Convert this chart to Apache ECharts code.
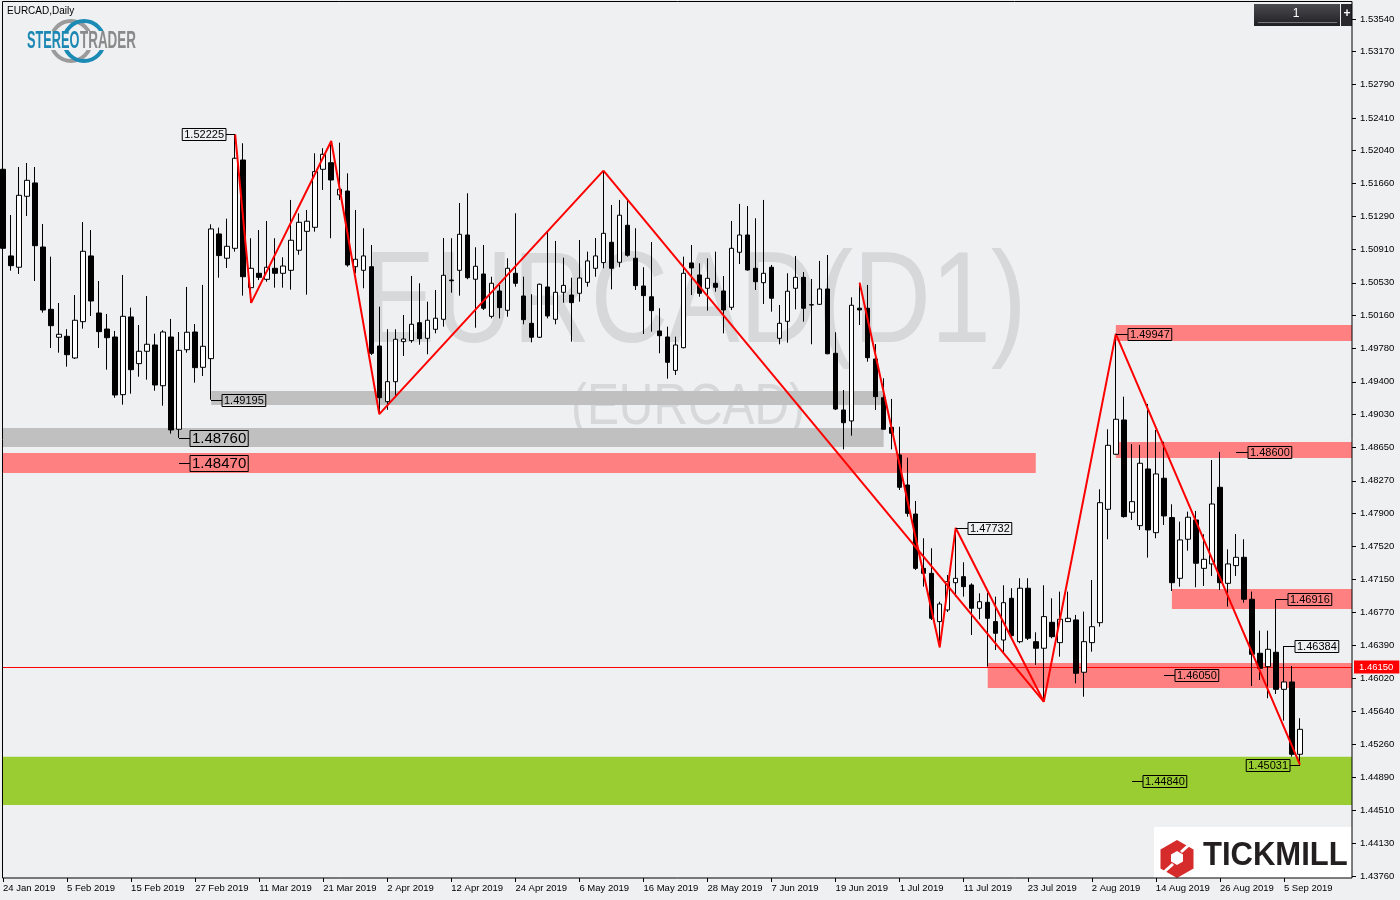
<!DOCTYPE html>
<html><head><meta charset="utf-8">
<script src="https://cdn.jsdelivr.net/npm/echarts@6/dist/echarts.min.js"></script>
<style>html,body{margin:0;padding:0;background:#eff0f2;}#c{width:1400px;height:900px;}</style>
</head><body><div id="c"></div>
<script>
const dates = ['24 Jan 2019','25 Jan 2019','28 Jan 2019','29 Jan 2019','30 Jan 2019','31 Jan 2019',
'1 Feb 2019','4 Feb 2019','5 Feb 2019','6 Feb 2019','7 Feb 2019','8 Feb 2019','11 Feb 2019','12 Feb 2019','13 Feb 2019','14 Feb 2019','15 Feb 2019','18 Feb 2019','19 Feb 2019','20 Feb 2019','21 Feb 2019','22 Feb 2019','25 Feb 2019','26 Feb 2019','27 Feb 2019','28 Feb 2019',
'1 Mar 2019','4 Mar 2019','5 Mar 2019','6 Mar 2019','7 Mar 2019','8 Mar 2019','11 Mar 2019','12 Mar 2019','13 Mar 2019','14 Mar 2019','15 Mar 2019','18 Mar 2019','19 Mar 2019','20 Mar 2019','21 Mar 2019','22 Mar 2019','25 Mar 2019','26 Mar 2019','27 Mar 2019','28 Mar 2019','29 Mar 2019',
'1 Apr 2019','2 Apr 2019','3 Apr 2019','4 Apr 2019','5 Apr 2019','8 Apr 2019','9 Apr 2019','10 Apr 2019','11 Apr 2019','12 Apr 2019','15 Apr 2019','16 Apr 2019','17 Apr 2019','18 Apr 2019','19 Apr 2019','22 Apr 2019','23 Apr 2019','24 Apr 2019','25 Apr 2019','26 Apr 2019','29 Apr 2019','30 Apr 2019',
'1 May 2019','2 May 2019','3 May 2019','6 May 2019','7 May 2019','8 May 2019','9 May 2019','10 May 2019','13 May 2019','14 May 2019','15 May 2019','16 May 2019','17 May 2019','20 May 2019','21 May 2019','22 May 2019','23 May 2019','24 May 2019','27 May 2019','28 May 2019','29 May 2019','30 May 2019','31 May 2019',
'3 Jun 2019','4 Jun 2019','5 Jun 2019','6 Jun 2019','7 Jun 2019','10 Jun 2019','11 Jun 2019','12 Jun 2019','13 Jun 2019','14 Jun 2019','17 Jun 2019','18 Jun 2019','19 Jun 2019','20 Jun 2019','21 Jun 2019','24 Jun 2019','25 Jun 2019','26 Jun 2019','27 Jun 2019','28 Jun 2019',
'1 Jul 2019','2 Jul 2019','3 Jul 2019','4 Jul 2019','5 Jul 2019','8 Jul 2019','9 Jul 2019','10 Jul 2019','11 Jul 2019','12 Jul 2019','15 Jul 2019','16 Jul 2019','17 Jul 2019','18 Jul 2019','19 Jul 2019','22 Jul 2019','23 Jul 2019','24 Jul 2019','25 Jul 2019','26 Jul 2019','29 Jul 2019','30 Jul 2019','31 Jul 2019',
'1 Aug 2019','2 Aug 2019','5 Aug 2019','6 Aug 2019','7 Aug 2019','8 Aug 2019','9 Aug 2019','12 Aug 2019','13 Aug 2019','14 Aug 2019','15 Aug 2019','16 Aug 2019','19 Aug 2019','20 Aug 2019','21 Aug 2019','22 Aug 2019','23 Aug 2019','26 Aug 2019','27 Aug 2019','28 Aug 2019','29 Aug 2019','30 Aug 2019',
'2 Sep 2019','3 Sep 2019','4 Sep 2019','5 Sep 2019','6 Sep 2019','9 Sep 2019'];

const opens = [
1.51825,1.50836,1.50707,1.51517,1.51669,1.50938,1.50227,1.49908,1.49919,1.49672,
1.50086,1.50836,1.50185,1.50002,1.49911,1.49253,1.50140,1.49607,1.49748,1.49820,
1.49355,1.49911,1.48858,1.49766,1.49968,1.49565,1.49664,1.51087,1.50810,1.50923,
1.51931,1.50474,1.50638,1.50569,1.50695,1.50638,1.50672,1.50901,1.51117,1.51163,
1.51825,1.51900,1.51532,1.51577,1.50713,1.50672,1.50713,1.49808,1.49173,1.49401,
1.49858,1.49870,1.50074,1.49896,1.49999,1.50113,1.50561,1.50672,1.51075,1.50570,
1.50630,1.50147,1.50436,1.50216,1.50638,1.50379,1.50067,1.49908,1.50482,1.50113,
1.50421,1.50390,1.50410,1.50535,1.50695,1.50760,1.50992,1.50764,1.51186,1.50810,
1.50493,1.50370,1.49980,1.49911,1.49530,1.49789,1.50756,1.50619,1.50467,1.50524,
1.50436,1.50250,1.50878,1.51075,1.50695,1.50531,1.50707,1.49896,1.50090,1.50467,
1.50592,1.50276,1.50284,1.50459,1.49725,1.49078,1.48953,1.50240,1.50239,1.49660,
1.49218,1.48880,1.48565,1.48222,1.47891,1.47271,1.47214,1.46663,1.46796,1.47107,
1.47176,1.47081,1.46815,1.46883,1.46663,1.46453,1.46929,1.46434,1.47044,1.46434,
1.46359,1.46655,1.46423,1.46663,1.46682,1.46085,1.46423,1.46651,1.47945,1.48573,
1.48964,1.47911,1.47758,1.48405,1.47678,1.48299,1.47850,1.47157,1.47603,1.47823,
1.47271,1.47321,1.48196,1.47100,1.47302,1.47397,1.46918,1.46302,1.46149,1.46313,
1.45890,1.45974,1.45149];

const highs = [
1.52045,1.51303,1.51851,1.51897,1.51851,1.51201,1.50828,1.50299,1.50000,1.50390,
1.51223,1.51132,1.50550,1.50174,1.49980,1.50619,1.50246,1.50048,1.50379,1.49949,
1.49988,1.50117,1.49968,1.50482,1.50059,1.50505,1.51197,1.51159,1.51261,1.52225,
1.52122,1.51038,1.51132,1.51235,1.51038,1.50821,1.51475,1.51323,1.51361,1.52008,
1.52065,1.52148,1.52129,1.51779,1.51361,1.51152,1.50961,1.50257,1.50000,1.49999,
1.50162,1.50608,1.50524,1.50314,1.50448,1.51041,1.51038,1.51440,1.51551,1.50935,
1.50961,1.50599,1.50505,1.50809,1.51323,1.50599,1.50399,1.50520,1.51113,1.51007,
1.50816,1.50588,1.51018,1.50885,1.51041,1.51809,1.51418,1.51475,1.51475,1.51152,
1.50707,1.50995,1.50239,1.50029,1.49915,1.50828,1.50961,1.50752,1.50809,1.50885,
1.50607,1.51235,1.51430,1.51406,1.51266,1.51475,1.50733,1.50276,1.50638,1.50836,
1.50653,1.50573,1.50779,1.50847,1.49965,1.49306,1.50364,1.50530,1.50505,1.49831,
1.49440,1.49204,1.48887,1.48534,1.48040,1.47614,1.47500,1.46890,1.47195,1.47732,
1.47340,1.47100,1.46986,1.46993,1.46948,1.47078,1.47044,1.47158,1.47158,1.46541,
1.47078,1.46929,1.47005,1.47005,1.46739,1.46777,1.47138,1.48173,1.48858,1.49947,
1.49230,1.48690,1.48679,1.49147,1.48850,1.48716,1.48002,1.47804,1.47918,1.47926,
1.47660,1.48507,1.48600,1.47488,1.47663,1.47603,1.47005,1.46560,1.46560,1.46916,
1.46384,1.46157,1.45560];

const lows = [
1.50790,1.50668,1.50630,1.51292,1.50550,1.50189,1.49786,1.49732,1.49572,1.49660,
1.50006,1.50151,1.49786,1.49538,1.49218,1.49139,1.49264,1.49458,1.49424,1.49298,
1.49127,1.48808,1.48760,1.49732,1.49390,1.49466,1.49195,1.50588,1.50699,1.50885,
1.50383,1.50300,1.50561,1.50542,1.50474,1.50474,1.50451,1.50850,1.50394,1.51113,
1.51589,1.51038,1.51475,1.50713,1.50638,1.50467,1.49706,1.49030,1.49080,1.49230,
1.49694,1.49846,1.49823,1.49714,1.49953,1.50029,1.50417,1.50383,1.50570,1.50017,
1.50219,1.50124,1.50124,1.50143,1.50485,1.50056,1.49850,1.49900,1.50124,1.50056,
1.50303,1.49858,1.50314,1.50485,1.50599,1.50695,1.50455,1.50707,1.50828,1.50448,
1.49945,1.49972,1.49725,1.49435,1.49478,1.49782,1.50390,1.50371,1.50212,1.50428,
1.49953,1.50219,1.50744,1.50668,1.50448,1.50288,1.50200,1.49828,1.49846,1.50227,
1.50086,1.49828,1.50276,1.49714,1.49078,1.48629,1.48785,1.50048,1.49629,1.49078,
1.48858,1.48629,1.48165,1.47860,1.47252,1.47062,1.46682,1.46370,1.46773,1.46948,
1.46948,1.46510,1.46690,1.46149,1.46339,1.46301,1.46473,1.46416,1.46453,1.46168,
1.45749,1.46473,1.46263,1.46660,1.45959,1.45806,1.46320,1.46605,1.47603,1.48565,
1.47850,1.47823,1.47709,1.47393,1.47614,1.47766,1.47012,1.47062,1.47473,1.47055,
1.47070,1.47184,1.47024,1.46834,1.47184,1.46880,1.45928,1.45997,1.45788,1.45837,
1.45533,1.45122,1.45031];

const closes = [
1.50923,1.50725,1.51528,1.51699,1.50953,1.50219,1.50040,1.49942,1.49709,1.50102,
1.50889,1.50322,1.49972,1.49903,1.49249,1.50147,1.49538,1.49748,1.49828,1.49363,
1.49968,1.48850,1.49759,1.49965,1.49561,1.49805,1.51144,1.50840,1.50946,1.51951,
1.50599,1.50695,1.50592,1.50707,1.50638,1.50721,1.51015,1.51220,1.51232,1.51798,
1.51996,1.51703,1.51597,1.50733,1.50798,1.50836,1.49725,1.49218,1.49401,1.49885,
1.49888,1.50056,1.49892,1.50102,1.50125,1.50615,1.50553,1.51083,1.50588,1.50718,
1.50239,1.50524,1.50246,1.50695,1.50524,1.50109,1.49908,1.50513,1.50151,1.50421,
1.50500,1.50303,1.50584,1.50779,1.50836,1.51094,1.50695,1.51301,1.50844,1.50497,
1.50383,1.50212,1.49926,1.49622,1.49820,1.50638,1.50699,1.50410,1.50581,1.50478,
1.50219,1.50923,1.51075,1.50676,1.50542,1.50638,1.50353,1.50067,1.50433,1.50592,
1.50239,1.50280,1.50459,1.49720,1.49089,1.48933,1.50273,1.50220,1.49675,1.49230,
1.48858,1.48812,1.48196,1.47899,1.47271,1.47214,1.46701,1.46864,1.47119,1.47157,
1.47062,1.46815,1.46890,1.46701,1.46530,1.46879,1.46503,1.47044,1.46473,1.46359,
1.46720,1.46491,1.46690,1.46701,1.46073,1.46434,1.46605,1.48020,1.48675,1.48972,
1.47861,1.48032,1.48470,1.47709,1.48348,1.47869,1.47107,1.47595,1.47854,1.47329,
1.47374,1.48005,1.47107,1.47321,1.47397,1.46918,1.46290,1.46130,1.46347,1.45890,
1.45974,1.45149,1.45434];

const yTicks = [1.53540,1.53170,1.52790,1.52410,1.52040,1.51660,1.51290,1.50910,1.50530,1.50160,1.49780,1.49400,1.49030,1.48650,1.48270,1.47900,1.47520,1.47150,1.46770,1.46390,1.46020,1.45640,1.45260,1.44890,1.44510,1.44130,1.43760];
const currentPrice = 1.46150;

const zigzagA = [[29,'H'],[31,'L'],[41,'H'],[47,'L'],[75,'H']];
const zigzagB = [[75,'H'],[130,'L']];
const zigzagC = [[107,'H'],[117,'L'],[119,'H'],[130,'L'],[139,'H'],[162,'L']];

const grayZones  = [[26,110,1.49135,1.49295],[-1,110,1.48656,1.48873]];
const pinkZones  = [[-1,129,1.48360,1.48588],[139,999,1.49866,1.50048],[139,999,1.48530,1.48713],[146,999,1.46807,1.47036],[123,999,1.45906,1.46191]];
const greenZones = [[-1,999,1.44571,1.45120]];

const labelIdx   = [29, 26, 22, 22, 119, 139, 154, 159, 160, 145, 162, 141];
const labelPrice = [1.52225,1.49195,1.48760,1.48470,1.47732,1.49947,1.48600,1.46916,1.46384,1.46050,1.45031,1.44840];

// ---- styles (not data) ----
const labelStyle = [
  {s:'L',g:9},{s:'R',g:11},{s:'R',g:11,big:1},{s:'R',g:11,big:1},{s:'R',g:12},{s:'R',g:12},
  {s:'R',g:12},{s:'R',g:12},{s:'R',g:11},{s:'R',g:11},{s:'L',g:10},{s:'R',g:11}
];
const AXFONT = "'Liberation Sans',sans-serif";
const N = dates.length;
const cats = dates.concat(['','','','','','']);

const chart = echarts.init(document.getElementById('c'), null, {renderer:'canvas', width:1400, height:900});

function pivotData(list){
  return list.map(p => [p[0], p[1]==='H' ? highs[p[0]] : lows[p[0]]]);
}
function zigzag(list){
  return {type:'line', data: pivotData(list), symbol:'none', silent:true, z:4, animation:false,
    lineStyle:{color:'#ff0000', width:2}};
}
function zoneSeries(zones, color){
  return {
    type:'custom', z:1, silent:true, animation:false,
    data: zones.map((z,i)=>[i, z[3]]),
    renderItem: function(params, api){
      const z = zones[params.dataIndex];
      const cs = params.coordSys;
      const yTop = api.coord([0, z[3]])[1];
      const yBot = api.coord([0, z[2]])[1];
      const xL = z[0] < 0 ? 3 : api.coord([z[0], z[3]])[0];
      const xR = z[1] >= N ? cs.x + cs.width : api.coord([z[1], z[3]])[0];
      return {type:'rect', shape:{x:xL, y:yTop, width:xR-xL, height:yBot-yTop}, style:{fill:color}};
    }
  };
}

const option = {
  animation:false,
  backgroundColor:'#eff0f2',
  grid:{left:-1, right:48, top:2, bottom:22, containLabel:false, outerBoundsMode:'none'},
  xAxis:{
    type:'category', data:cats, boundaryGap:true,
    axisLine:{show:false},
    axisTick:{show:true, alignWithLabel:true, length:4, lineStyle:{color:'#000'},
      interval:(i,v)=> i%8===0 && v!==''},
    axisLabel:{interval:(i,v)=> i%8===0 && v!=='', align:'left', margin:5, color:'#000',
      fontSize:9.5, fontFamily:AXFONT},
    splitLine:{show:false}
  },
  yAxis:{
    type:'value', position:'right', min:1.43737, max:1.53734, scale:true,
    axisLine:{show:false}, splitLine:{show:false},
    axisTick:{show:true, customValues:yTicks, length:4, lineStyle:{color:'#000'}},
    axisLabel:{customValues:yTicks, formatter:v=>v.toFixed(5), margin:8, color:'#000',
      fontSize:9.5, fontFamily:AXFONT}
  },
  graphic:[
    {type:'text', x:695, y:306, scaleX:0.827, silent:true, z:-10,
      style:{text:'EURCAD(D1)', font:'130px "Liberation Sans"', fill:'#d6d8da', align:'center', verticalAlign:'middle'}},
    {type:'text', x:688, y:408, scaleX:0.84, silent:true, z:-10,
      style:{text:'(EURCAD)', font:'57px "Liberation Sans"', fill:'#d6d8da', align:'center', verticalAlign:'middle'}},
    {type:'text', x:7, y:11, silent:true,
      style:{text:'EURCAD,Daily', font:'10px "Liberation Sans"', fill:'#000', align:'left', verticalAlign:'middle'}},
    // stereotrader logo
    {type:'circle', shape:{cx:71, cy:41, r:20}, style:{fill:'none', stroke:'#9b9b9b', lineWidth:4}, silent:true},
    {type:'circle', shape:{cx:84, cy:41, r:20}, style:{fill:'none', stroke:'#1b8ab5', lineWidth:4}, silent:true},
    {type:'rect', shape:{x:24, y:31, width:118, height:19}, style:{fill:'#eff0f2'}, silent:true},
    {type:'text', x:27, y:41, scaleX:0.53, silent:true,
      style:{text:'STEREO', font:'bold 24px "Liberation Sans"', fill:'#1b87b3', align:'left', verticalAlign:'middle'}},
    {type:'text', x:80, y:41, scaleX:0.56, silent:true,
      style:{text:'TRADER', font:'bold 24px "Liberation Sans"', fill:'#8a8a8a', align:'left', verticalAlign:'middle'}},
    // top-right button
    {type:'rect', shape:{x:1254, y:4, width:86, height:22}, silent:true,
      style:{fill:new echarts.graphic.LinearGradient(0,0,0,1,[{offset:0,color:'#4a4a50'},{offset:1,color:'#1f1f23'}])}},
    {type:'line', shape:{x1:1258, y1:22.5, x2:1337, y2:22.5}, style:{stroke:'#77777d', lineWidth:1}, silent:true},
    {type:'text', x:1296, y:14, silent:true,
      style:{text:'1', font:'12px "Liberation Sans"', fill:'#fff', align:'center', verticalAlign:'middle'}},
    {type:'rect', shape:{x:1341, y:4, width:11, height:22}, style:{fill:'#2a2a2e'}, silent:true},
    {type:'text', x:1347, y:14, silent:true,
      style:{text:'+', font:'bold 12px "Liberation Sans"', fill:'#fff', align:'center', verticalAlign:'middle'}},
    // tickmill logo
    {type:'rect', shape:{x:1154, y:827, width:198, height:51}, style:{fill:'#ffffff'}, silent:true},
    {type:'polygon', silent:true, shape:{points:[[1177,840],[1193.5,849.5],[1193.5,868.5],[1177,878],[1160.5,868.5],[1160.5,849.5]]}, style:{fill:'#d52b2b'}},
    {type:'polygon', silent:true, shape:{points:[[1177,851],[1183,854.5],[1183,861.5],[1177,865],[1171,861.5],[1171,854.5]]}, style:{fill:'#ffffff'}},
    {type:'line', silent:true, shape:{x1:1181, y1:852, x2:1190, y2:844}, style:{stroke:'#fff', lineWidth:3}},
    {type:'line', silent:true, shape:{x1:1173, y1:864, x2:1164, y2:872}, style:{stroke:'#fff', lineWidth:3}},
    {type:'text', x:1203, y:856, scaleX:0.94, silent:true,
      style:{text:'TICKMILL', font:'bold 33px "Liberation Sans"', fill:'#231f20', align:'left', verticalAlign:'middle'}},
    // frame
    {type:'rect', z:100, silent:true, shape:{x:2.5, y:1.5, width:1349.5, height:876.5}, style:{fill:'none', stroke:'#000', lineWidth:1}}
  ],
  series:[
    zoneSeries(grayZones, '#c0c0c0'),
    zoneSeries(pinkZones, '#ff8080'),
    zoneSeries(greenZones, '#9acd32'),
    {
      type:'custom', z:2, silent:true, animation:false,
      data:[[0, currentPrice]],
      renderItem:function(params, api){
        const cs = params.coordSys;
        const y = Math.round(api.coord([0, currentPrice])[1]);
        return {type:'rect', shape:{x:3, y:y, width:cs.x + cs.width - 3, height:1}, style:{fill:'#ff0000'}};
      }
    },
    {
      type:'candlestick', z:3, animation:false, barWidth:5,
      data: dates.map((d,i)=>[opens[i], closes[i], lows[i], highs[i]]),
      itemStyle:{color:'#ffffff', color0:'#000000', borderColor:'#000000', borderColor0:'#000000', borderColorDoji:'#000000', borderWidth:1}
    },
    zigzag(zigzagA), zigzag(zigzagB), zigzag(zigzagC),
    {
      type:'custom', z:6, silent:true, animation:false,
      data: labelIdx.map((x,i)=>[x, labelPrice[i]]),
      renderItem:function(params, api){
        const i = params.dataIndex;
        const st = labelStyle[i];
        const p = api.coord([labelIdx[i], labelPrice[i]]);
        const x0 = Math.round(p[0]), y0 = Math.round(p[1]) + 0.5;
        const bx = st.s==='R' ? x0 + st.g : x0 - st.g;
        return {type:'group', children:[
          {type:'line', shape:{x1:x0, y1:y0, x2:bx, y2:y0}, style:{stroke:'#000', lineWidth:1}},
          {type:'text', x:bx, y:y0, style:{text:labelPrice[i].toFixed(5),
            font: st.big ? '15px "Liberation Sans"' : '11px "Liberation Sans"', fill:'#000',
            align: st.s==='R' ? 'left' : 'right', verticalAlign:'middle',
            borderColor:'#000', borderWidth:1, padding:[1,2,0,2]}}
        ]};
      }
    },
    {
      type:'custom', z:6, silent:true, animation:false,
      data:[[0, currentPrice]],
      renderItem:function(params, api){
        const cs = params.coordSys;
        const y = Math.round(api.coord([0, currentPrice])[1]);
        return {type:'text', x: cs.x + cs.width + 2, y: y, style:{text: currentPrice.toFixed(5),
          font:"9.5px 'Liberation Sans',sans-serif", fill:'#fff', backgroundColor:'#ff0000',
          padding:[2,6,1,5], align:'left', verticalAlign:'middle'}};
      }
    }
  ]
};
chart.setOption(option);
</script>
</body></html>
